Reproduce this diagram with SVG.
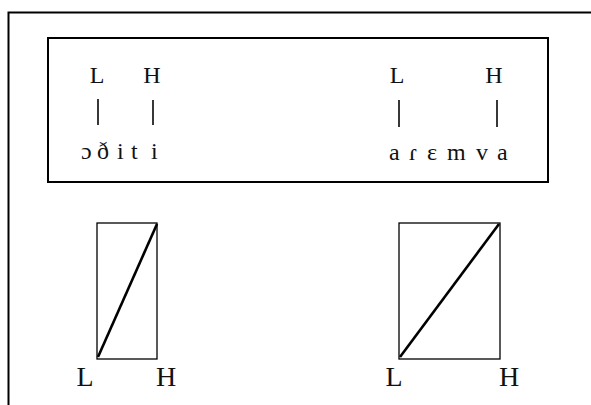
<svg xmlns="http://www.w3.org/2000/svg" width="591" height="405" viewBox="0 0 591 405">
<style>
.frame{fill:none;stroke:#000;stroke-width:2}
.t{font-family:"Liberation Serif","DejaVu Serif",serif;fill:#111}
.top{font-size:24px}
.ipa{font-size:24px}
.big{font-size:28px}
.bar{stroke:#222;stroke-width:1.8}
.box{fill:none;stroke:#000;stroke-width:1.3}
.diag{stroke:#000;stroke-width:2.6}
</style>
<rect width="591" height="405" fill="#fff"/>
<path class="frame" d="M8.5,405 V12.5 H591"/>
<g id="tone-box">
<rect class="frame" x="48" y="38" width="500" height="144" fill="#fff"/>
<g id="left-form">
<text class="t top" x="97" y="83" text-anchor="middle">L</text>
<text class="t top" x="152" y="83" text-anchor="middle">H</text>
<text class="t ipa" x="81 97 117 131 151" y="159">ɔðiti</text>
</g>
<g id="right-form">
<text class="t top" x="397" y="83" text-anchor="middle">L</text>
<text class="t top" x="494" y="83" text-anchor="middle">H</text>
<text class="t ipa" x="389 409 427 447 476 497" y="160">aɾɛmva</text>
</g>
</g>
<g id="connectors">
<line class="bar" x1="98" y1="99" x2="98" y2="125"/>
<line class="bar" x1="153" y1="100" x2="153" y2="125"/>
<line class="bar" x1="399" y1="100" x2="399" y2="127"/>
<line class="bar" x1="497" y1="100" x2="497" y2="127"/>
</g>
<g id="contour-left">
<rect class="box" x="97" y="223" width="60" height="136"/>
<line class="diag" x1="98" y1="357" x2="157" y2="224"/>
<text class="t big" x="85" y="386" text-anchor="middle">L</text>
<text class="t big" x="166" y="386" text-anchor="middle">H</text>
</g>
<g id="contour-right">
<rect class="box" x="399" y="223" width="101" height="136"/>
<line class="diag" x1="400" y1="357" x2="499" y2="224"/>
<text class="t big" x="394" y="386" text-anchor="middle">L</text>
<text class="t big" x="509" y="386" text-anchor="middle">H</text>
</g>
</svg>
